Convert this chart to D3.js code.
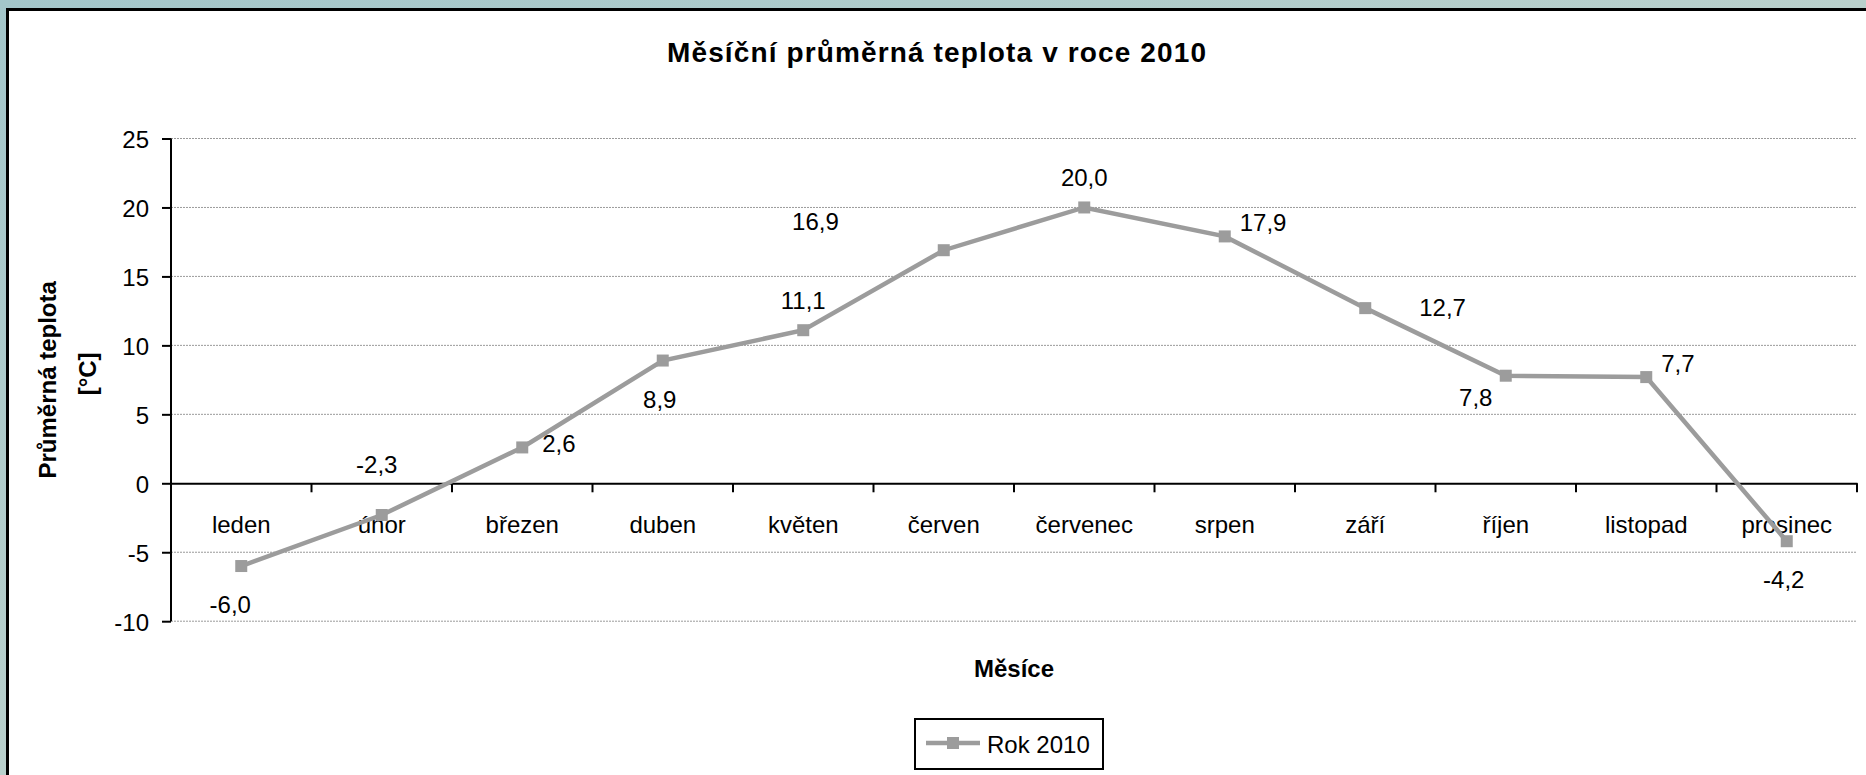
<!DOCTYPE html>
<html>
<head>
<meta charset="utf-8">
<script src="https://cdn.jsdelivr.net/npm/d3@7"></script>
<style>
  body { margin: 0; }
  text { font-family: "Liberation Sans", Arial, sans-serif; }
</style>
</head>
<body>
<div id="chart"></div>
<script>
var months = ["leden", "únor", "březen", "duben", "květen", "červen",
              "červenec", "srpen", "září", "říjen", "listopad", "prosinec"];
var temps = [-6.0, -2.3, 2.6, 8.9, 11.1, 16.9, 20.0, 17.9, 12.7, 7.8, 7.7, -4.2];
var labelPlace = ["belowL", "top", "right", "below", "above", "farLeft",
                  "above", "rightUp", "farRight", "belowLeft", "rightUp", "below"];
var yTicks = [-10, -5, 0, 5, 10, 15, 20, 25];
var seriesName = "Rok 2010";

var width = 1866, height = 775;
var svg = d3.select("#chart").append("svg")
    .attr("width", width)
    .attr("height", height);

// background + chart box
var defs = svg.append("defs");
var grad = defs.append("linearGradient").attr("id", "bg")
    .attr("x1", 0).attr("y1", 0).attr("x2", 1).attr("y2", 1);
grad.append("stop").attr("offset", "0%").attr("stop-color", "#a3c6ca");
grad.append("stop").attr("offset", "50%").attr("stop-color", "#b9d0cc");
grad.append("stop").attr("offset", "100%").attr("stop-color", "#c9dad2");
svg.append("rect").attr("width", width).attr("height", height).attr("fill", "url(#bg)");
svg.append("rect")
    .attr("x", 7.5).attr("y", 9.5)
    .attr("width", width + 20).attr("height", height + 20)
    .attr("fill", "white").attr("stroke", "black").attr("stroke-width", 3);

var plotL = 171, plotR = 1857, plotT = 138.5, plotB = 621.2;

var x = d3.scaleBand().domain(months).range([plotL, plotR]);
var y = d3.scaleLinear().domain([-10, 25]).range([plotB, plotT]);

// gridlines
svg.append("g").selectAll("line")
    .data(yTicks.filter(function(d) { return d !== 0; }))
    .join("line")
    .attr("x1", plotL).attr("x2", plotR)
    .attr("y1", function(d) { return y(d); })
    .attr("y2", function(d) { return y(d); })
    .attr("stroke", "#9a9a9a")
    .attr("stroke-width", 1)
    .attr("stroke-dasharray", "2,1");

// y axis
var yAxis = svg.append("g")
    .attr("transform", "translate(" + plotL + ",0)")
    .call(d3.axisLeft(y).tickValues(yTicks).tickSize(9).tickPadding(13)
        .tickFormat(function(d) { return String(d); }));
yAxis.select(".domain").attr("stroke", "black").attr("stroke-width", 2).attr("d", "M0," + plotT + "V" + plotB);
yAxis.selectAll(".tick line").attr("stroke", "black").attr("stroke-width", 2);
yAxis.selectAll(".tick text")
    .attr("font-family", "Liberation Sans, Arial, sans-serif")
    .attr("font-size", 24).attr("fill", "black").attr("dy", "0.38em");

// x axis at zero
var y0 = y(0);
var xAxis = svg.append("g")
    .attr("transform", "translate(0," + y0 + ")")
    .call(d3.axisBottom(x).tickSize(0).tickPadding(33));
xAxis.select(".domain").attr("stroke", "black").attr("stroke-width", 2);
xAxis.selectAll(".tick text")
    .attr("font-family", "Liberation Sans, Arial, sans-serif")
    .attr("font-size", 24).attr("fill", "black");
xAxis.append("g").selectAll("line")
    .data(months)
    .join("line")
    .attr("x1", function(d) { return x(d) + x.bandwidth(); })
    .attr("x2", function(d) { return x(d) + x.bandwidth(); })
    .attr("y1", 0).attr("y2", 9)
    .attr("stroke", "black").attr("stroke-width", 2);

// series
var lineColor = "#9c9c9c";
var cx = function(i) { return x(months[i]) + x.bandwidth() / 2; };
var line = d3.line()
    .x(function(d, i) { return cx(i); })
    .y(function(d) { return y(d); });

svg.append("path")
    .datum(temps)
    .attr("d", line)
    .attr("fill", "none")
    .attr("stroke", lineColor)
    .attr("stroke-width", 4.5);

svg.append("g").selectAll("rect")
    .data(temps)
    .join("rect")
    .attr("x", function(d, i) { return cx(i) - 6; })
    .attr("y", function(d) { return y(d) - 6; })
    .attr("width", 12).attr("height", 12)
    .attr("fill", lineColor);

// data labels
var place = {
    below:     { dx: -3,   dy: 47,  anchor: "middle" },
    belowL:    { dx: -11,  dy: 47,  anchor: "middle" },
    top:       { dx: -5,   dy: -42, anchor: "middle" },
    above:     { dx: 0,    dy: -21, anchor: "middle" },
    right:     { dx: 20,   dy: 5,   anchor: "start" },
    rightUp:   { dx: 15,   dy: -5,  anchor: "start" },
    farLeft:   { dx: -105, dy: -20, anchor: "end" },
    farRight:  { dx: 54,   dy: 8,   anchor: "start" },
    belowLeft: { dx: -30,  dy: 30,  anchor: "middle" }
};
var fmt = function(v) { return v.toFixed(1).replace(".", ","); };

svg.append("g").selectAll("text")
    .data(temps)
    .join("text")
    .attr("x", function(d, i) { return cx(i) + place[labelPlace[i]].dx; })
    .attr("y", function(d, i) { return y(d) + place[labelPlace[i]].dy; })
    .attr("text-anchor", function(d, i) { return place[labelPlace[i]].anchor; })
    .attr("font-size", 24)
    .attr("fill", "black")
    .text(fmt);

// titles
svg.append("text")
    .attr("x", 936.5).attr("y", 62)
    .attr("text-anchor", "middle")
    .attr("font-size", 28).attr("font-weight", "bold")
    .attr("textLength", 539).attr("lengthAdjust", "spacing")
    .text("Měsíční průměrná teplota v roce 2010");

svg.append("text")
    .attr("x", (plotL + plotR) / 2).attr("y", 677)
    .attr("text-anchor", "middle")
    .attr("font-size", 24).attr("font-weight", "bold")
    .text("Měsíce");

var yTitle = svg.append("text")
    .attr("transform", "translate(56," + ((plotT + plotB) / 2) + ") rotate(-90)")
    .attr("text-anchor", "middle")
    .attr("font-size", 24).attr("font-weight", "bold");
yTitle.append("tspan").attr("x", 0).attr("y", 0).text("Průměrná teplota");
yTitle.append("tspan").attr("x", 6).attr("y", 40).text("[°C]");

// legend
var lg = svg.append("g").attr("transform", "translate(915,719)");
lg.append("rect")
    .attr("width", 188).attr("height", 50)
    .attr("fill", "white").attr("stroke", "black").attr("stroke-width", 2);
lg.append("line")
    .attr("x1", 11).attr("x2", 65).attr("y1", 24).attr("y2", 24)
    .attr("stroke", lineColor).attr("stroke-width", 4.5);
lg.append("rect")
    .attr("x", 32).attr("y", 18).attr("width", 12).attr("height", 12)
    .attr("fill", lineColor);
lg.append("text")
    .attr("x", 72).attr("y", 34)
    .attr("font-size", 24).attr("fill", "black")
    .text(seriesName);
</script>
</body>
</html>
